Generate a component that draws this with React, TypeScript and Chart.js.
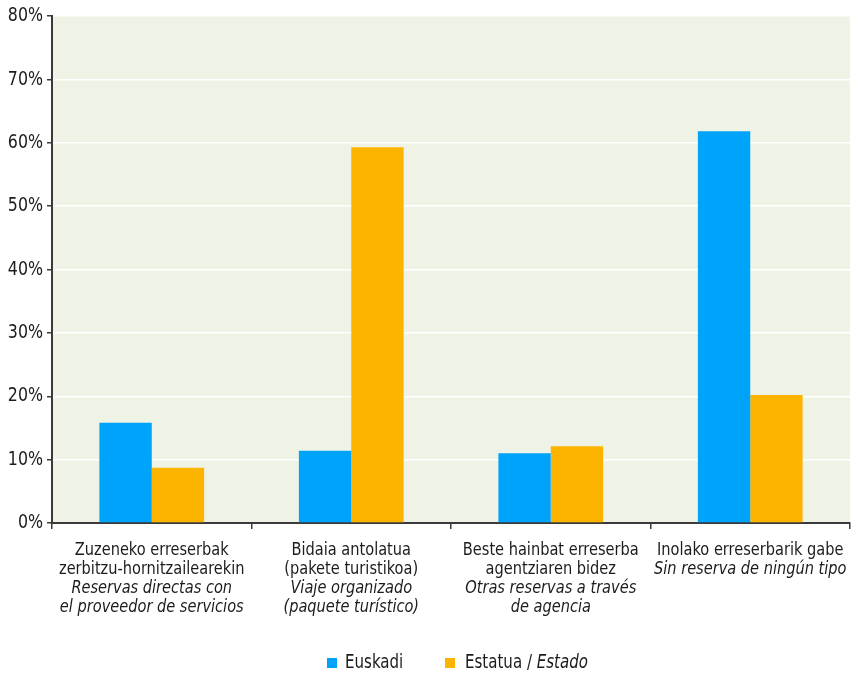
import React, { useEffect, useRef } from "react";
import { Chart, registerables } from "chart.js";

Chart.register(...registerables);

const labelsEu: string[][] = [
  ["Zuzeneko erreserbak", "zerbitzu-hornitzailearekin"],
  ["Bidaia antolatua", "(pakete turistikoa)"],
  ["Beste hainbat erreserba", "agentziaren bidez"],
  ["Inolako erreserbarik gabe"],
];
const labelsEs: string[][] = [
  ["Reservas directas con", "el proveedor de servicios"],
  ["Viaje organizado", "(paquete turístico)"],
  ["Otras reservas a través", "de agencia"],
  ["Sin reserva de ningún tipo"],
];
const euskadi = [15.8, 11.4, 11.0, 61.8];
const estado = [8.7, 59.3, 12.1, 20.2];
const yTicks = [0, 10, 20, 30, 40, 50, 60, 70, 80];

const FONT = '"Liberation Sans Narrow", "DejaVu Sans Condensed", "Roboto Condensed", sans-serif';
const BLUE = "#00A3FA";
const ORANGE = "#FDB400";
const TEXT = "#1c1c1c";
const AXIS = "#3a3a3a";
const SX = 0.9;

function scaledText(ctx: any, text: string, x: number, y: number, sx: number) {
  ctx.save();
  ctx.translate(x, y);
  ctx.scale(sx, 1);
  ctx.fillText(text, 0, 0);
  ctx.restore();
}

const customPlugin = {
  id: "custom",
  beforeDraw(chart: any) {
    const { ctx, chartArea } = chart;
    ctx.save();
    ctx.fillStyle = "#EEF3E6";
    ctx.fillRect(chartArea.left, chartArea.top, chartArea.right - chartArea.left, chartArea.bottom - chartArea.top);
    ctx.restore();
  },
  afterDraw(chart: any) {
    const { ctx, chartArea } = chart;
    const xs = chart.scales.x;
    ctx.save();
    ctx.fillStyle = TEXT;
    ctx.textAlign = "center";
    ctx.textBaseline = "middle";
    const lh = 19;
    for (let i = 0; i < labelsEu.length; i++) {
      const cx = xs.getPixelForValue(i);
      let y = chartArea.bottom + 27;
      ctx.font = `18px ${FONT}`;
      for (const line of labelsEu[i]) {
        scaledText(ctx, line, cx, y, SX);
        y += lh;
      }
      ctx.font = `italic 18px ${FONT}`;
      for (const line of labelsEs[i]) {
        scaledText(ctx, line, cx, y, SX);
        y += lh;
      }
    }
    // y tick labels
    const ys = chart.scales.y;
    ctx.textAlign = "right";
    ctx.font = `20px ${FONT}`;
    for (const v of yTicks) {
      scaledText(ctx, v + "%", 43, ys.getPixelForValue(v), 0.88);
    }
    // legend
    const ly = 663;
    ctx.textAlign = "left";
    ctx.fillStyle = BLUE;
    ctx.fillRect(327, ly - 5, 10, 10);
    ctx.fillStyle = ORANGE;
    ctx.fillRect(445, ly - 5, 10, 10);
    ctx.fillStyle = TEXT;
    ctx.font = `19px ${FONT}`;
    scaledText(ctx, "Euskadi", 345, ly, 0.88);
    const part1 = "Estatua / ";
    scaledText(ctx, part1, 465, ly, 0.88);
    const w = ctx.measureText(part1).width * 0.88;
    ctx.font = `italic 19px ${FONT}`;
    scaledText(ctx, "Estado", 465 + w, ly, 0.88);
    ctx.restore();
  },
};

export default function App() {
  const ref = useRef<HTMLCanvasElement>(null);
  useEffect(() => {
    document.body.style.margin = "0";
    document.body.style.overflow = "hidden";
    const chart = new Chart(ref.current!, {
      type: "bar",
      data: {
        labels: labelsEu.map((l) => l.join(" ")),
        datasets: [
          { label: "Euskadi", data: euskadi, backgroundColor: BLUE, borderWidth: 0 },
          { label: "Estatua / Estado", data: estado, backgroundColor: ORANGE, borderWidth: 0 },
        ],
      },
      options: {
        animation: false,
        responsive: false,
        maintainAspectRatio: false,
        layout: { padding: { top: 16, right: 8, left: 0, bottom: 0 } },
        plugins: { legend: { display: false }, tooltip: { enabled: false } },
        datasets: { bar: { categoryPercentage: 0.525, barPercentage: 1 } },
        scales: {
          x: {
            grid: { drawOnChartArea: false, drawTicks: true, tickLength: 6, color: AXIS, lineWidth: 1.5 },
            border: { color: AXIS, width: 2 },
            ticks: { display: false },
            afterFit: (s: any) => {
              s.height = 152;
            },
          },
          y: {
            min: 0,
            max: 80,
            afterBuildTicks: (s: any) => {
              s.ticks = yTicks.map((v) => ({ value: v }));
            },
            grid: { color: "#ffffff", lineWidth: 1.5, drawTicks: true, tickLength: 5, tickColor: AXIS },
            border: { color: AXIS, width: 2 },
            ticks: {
              display: true,
              padding: 3,
              color: "rgba(0,0,0,0)",
              font: { family: FONT, size: 19 },
              callback: (v: any) => v + "%",
            },
            afterFit: (s: any) => {
              s.width = 52;
            },
          },
        },
      },
      plugins: [customPlugin],
    });
    return () => chart.destroy();
  }, []);
  return (
    <div style={{ width: 858, height: 675 }}>
      <canvas ref={ref} width={858} height={675} style={{ display: "block" }} />
    </div>
  );
}
